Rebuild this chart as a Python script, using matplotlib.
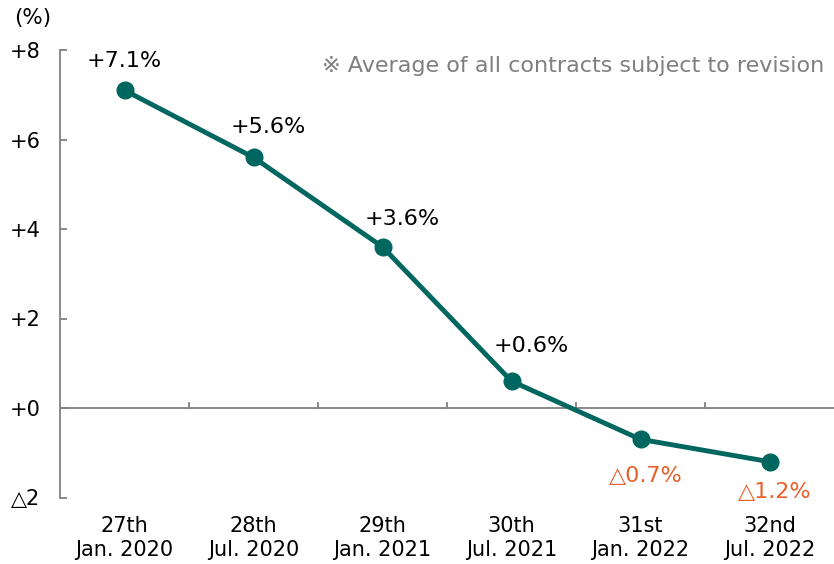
import numpy as np
import matplotlib.pyplot as plt

plt.rcParams['font.family'] = ['DejaVu Sans']

rounds = ['27th\nJan. 2020', '28th\nJul. 2020', '29th\nJan. 2021',
          '30th\nJul. 2021', '31st\nJan. 2022', '32nd\nJul. 2022']
changes = [7.1, 5.6, 3.6, 0.6, -0.7, -1.2]
point_labels = ['+7.1%', '+5.6%', '+3.6%', '+0.6%', '△0.7%', '△1.2%']
yticks = [-2, 0, 2, 4, 6, 8]
ytick_labels = ['△2', '+0', '+2', '+4', '+6', '+8']

# label offsets from each point (pixels, x right / y up)
label_offsets = [(0, 29), (15, 30), (20, 28), (20, 35), (5, -37), (5, -30)]

line_color = '#006660'
neg_color = '#E8602C'
axis_color = '#808080'

fig = plt.figure(figsize=(8.34, 5.64), dpi=100)
ax = fig.add_axes([60 / 834, 1 - 497.5 / 564, 1 - 60 / 834, (497.5 - 50) / 564])

x = np.arange(len(changes))
ax.plot(x, changes, color=line_color, lw=3.5, marker='o', markersize=12,
        zorder=3)

for xi, v, lab, (dx, dy) in zip(x, changes, point_labels, label_offsets):
    ax.annotate(lab, (xi, v), xytext=(dx * 0.72, dy * 0.72),
                textcoords='offset points', ha='center', va='center',
                fontsize=16, color='black' if v >= 0 else neg_color)

ax.set_xlim(-0.5, len(changes) - 0.5)
ax.set_ylim(-2, 8)

# zero line with category separators
ax.axhline(0, color=axis_color, lw=1.3, zorder=1)
for b in np.arange(0.5, len(changes) - 0.5, 1):
    ax.plot([b, b], [0, 0.12], color=axis_color, lw=1.3, zorder=1)

for s in ['top', 'right', 'bottom']:
    ax.spines[s].set_visible(False)
ax.spines['left'].set_color(axis_color)
ax.spines['left'].set_linewidth(1.3)

ax.set_yticks(yticks)
ax.set_yticklabels(ytick_labels, fontsize=15)
ax.tick_params(axis='y', direction='in', length=5, width=1.3,
               color=axis_color, pad=14)

ax.set_xticks(x)
ax.set_xticklabels(rounds, fontsize=15, linespacing=1.3)
ax.tick_params(axis='x', length=0, pad=13)

fig.text(14 / 834, 1 - 18 / 564, '(%)', fontsize=15.5, va='center', ha='left')
fig.text(824 / 834, 1 - 66 / 564, '※ Average of all contracts subject to revision',
         ha='right', va='center', fontsize=16, color='#7f7f7f')

fig.savefig('out.png', dpi=100)
